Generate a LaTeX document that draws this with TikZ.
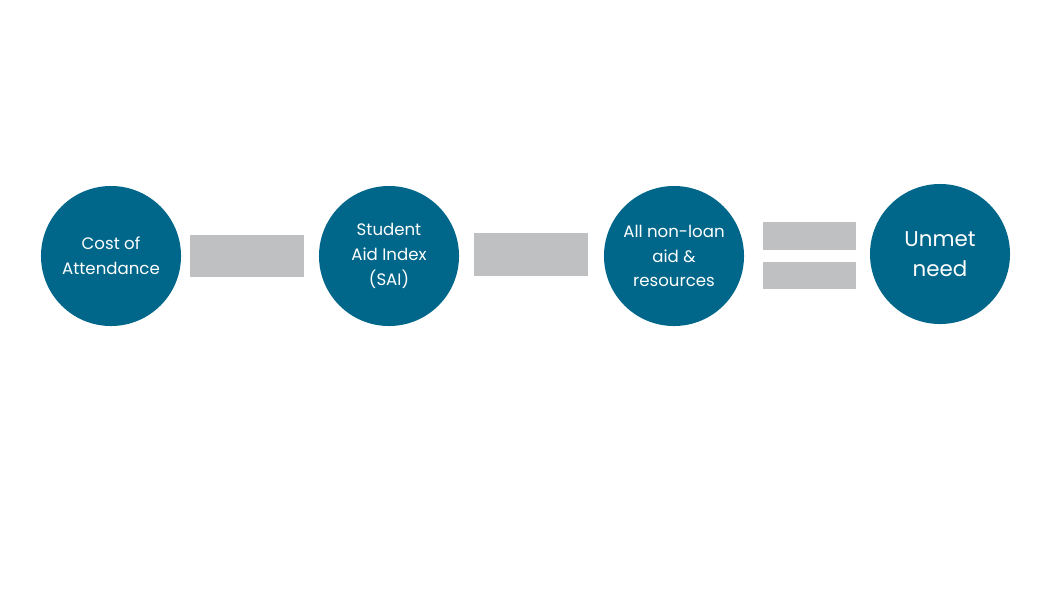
\documentclass[tikz,border=0pt]{standalone}
\usepackage{fontspec}
\setmainfont{Poppins}
\definecolor{aidblue}{HTML}{01678A}
\definecolor{bargray}{HTML}{BFC0C1}
\begin{document}
\begin{tikzpicture}
		[
			x=0.025cm, y=-0.025cm,
			term/.style={circle, fill=aidblue, text=white, align=center, inner sep=0pt, minimum size=3.5cm, font=\fontsize{11.8}{17.6}\selectfont},
			result/.style={term, font=\fontsize{15.2}{21.5}\selectfont},
			bar/.style={rectangle, fill=bargray, inner sep=0pt},
		]
		\useasboundingbox (0,0) rectangle (1050,600);

		% Nodes
		\node[term] (cost) at (111,256) {Cost of\\Attendance};
		\node[term] (sai) at (389,256) {Student\\Aid Index\\(SAI)};
		\node[term] (aid) at (674,256) {All non-loan\\aid \&\\resources};
		\node[result] (need) at (940,254) {Unmet\\need};

		% Operators
		\foreach \name/\x/\y/\w/\h in
		{
			minusa/247/256/2.85/1.05,
			minusb/531/254.5/2.85/1.075,
			equala/809.5/236/2.325/0.7,
			equalb/809.5/275.5/2.325/0.675
		}
			\node[bar, minimum width=\w cm, minimum height=\h cm] (\name) at (\x,\y) {};

		\end{tikzpicture}
\end{document}
